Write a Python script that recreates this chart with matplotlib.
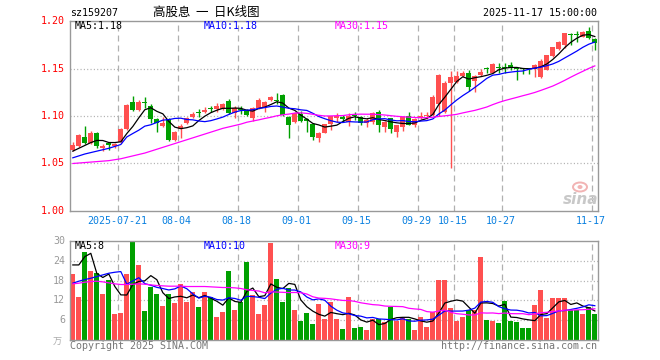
import matplotlib
matplotlib.use("Agg")
import matplotlib.pyplot as plt
from matplotlib.patches import Ellipse
import numpy as np
import pandas as pd

plt.rcParams['lines.scale_dashes'] = False

# ---------------- data ----------------
dates = ['2025-07-09','2025-07-10','2025-07-11','2025-07-14','2025-07-15','2025-07-16','2025-07-17','2025-07-18',
         '2025-07-21','2025-07-22','2025-07-23','2025-07-24','2025-07-25','2025-07-28','2025-07-29','2025-07-30',
         '2025-07-31','2025-08-01','2025-08-04','2025-08-05','2025-08-06','2025-08-07','2025-08-08','2025-08-11',
         '2025-08-12','2025-08-13','2025-08-14','2025-08-15','2025-08-18','2025-08-19','2025-08-20','2025-08-21',
         '2025-08-22','2025-08-25','2025-08-26','2025-08-27','2025-08-28','2025-08-29','2025-09-01','2025-09-02',
         '2025-09-03','2025-09-04','2025-09-05','2025-09-08','2025-09-09','2025-09-10','2025-09-11','2025-09-12',
         '2025-09-15','2025-09-16','2025-09-17','2025-09-18','2025-09-19','2025-09-22','2025-09-23','2025-09-24',
         '2025-09-25','2025-09-26','2025-09-29','2025-09-30','2025-10-09','2025-10-10','2025-10-13','2025-10-14',
         '2025-10-15','2025-10-16','2025-10-17','2025-10-20','2025-10-21','2025-10-22','2025-10-23','2025-10-24',
         '2025-10-27','2025-10-28','2025-10-29','2025-10-30','2025-10-31','2025-11-03','2025-11-04','2025-11-05',
         '2025-11-06','2025-11-07','2025-11-10','2025-11-11','2025-11-12','2025-11-13','2025-11-14','2025-11-17']

opens = [1.064,1.068,1.078,1.0712,1.0825,1.066,1.0715,1.068,1.073,1.086,1.115,1.106,1.115,1.110,1.097,1.089,
         1.097,1.075,1.086,1.093,1.099,1.1035,1.104,1.108,1.1074,1.1074,1.1158,1.1028,1.1074,1.1063,1.0975,1.108,
         1.1098,1.1168,1.117,1.122,1.0993,1.094,1.1018,1.0968,1.0912,1.0765,1.0825,1.0912,1.0975,1.0993,1.094,1.100,
         1.0993,1.093,1.094,1.1046,1.0888,1.0975,1.0835,1.0888,1.100,1.0905,1.0975,1.0995,1.1015,1.113,1.1046,1.1344,
         1.1361,1.1425,1.1456,1.1368,1.1432,1.1498,1.1456,1.152,1.151,1.1537,1.1509,1.1495,1.1495,1.1491,1.1407,1.1484,
         1.163,1.171,1.175,1.1863,1.186,1.1835,1.1898,1.181]
highs = [1.073,1.081,1.089,1.084,1.083,1.070,1.072,1.072,1.087,1.113,1.121,1.117,1.1195,1.113,1.098,1.099,
         1.098,1.084,1.0915,1.099,1.104,1.107,1.1095,1.111,1.1133,1.114,1.118,1.110,1.111,1.107,1.109,1.1186,
         1.116,1.121,1.124,1.123,1.0995,1.104,1.1055,1.0975,1.092,1.083,1.092,1.100,1.103,1.101,1.103,1.104,
         1.0995,1.0975,1.104,1.1063,1.095,1.098,1.091,1.100,1.104,1.098,1.104,1.104,1.122,1.144,1.137,1.147,
         1.147,1.147,1.148,1.1435,1.149,1.152,1.1558,1.156,1.1554,1.1572,1.151,1.1505,1.150,1.155,1.1595,1.1645,
         1.173,1.1785,1.187,1.187,1.1898,1.190,1.1935,1.182]
lows = [1.063,1.067,1.070,1.070,1.066,1.063,1.064,1.066,1.072,1.085,1.105,1.105,1.108,1.0925,1.0835,1.088,
        1.074,1.074,1.0765,1.092,1.098,1.0985,1.103,1.1045,1.1045,1.106,1.1018,1.0975,1.102,1.0995,1.095,1.107,
        1.1045,1.116,1.113,1.0995,1.0765,1.093,1.0935,1.0835,1.0747,1.073,1.082,1.085,1.094,1.094,1.089,1.096,
        1.0905,1.088,1.092,1.0835,1.083,1.0825,1.0775,1.0845,1.090,1.0885,1.0965,1.097,1.100,1.100,1.1035,1.0456,
        1.135,1.141,1.1267,1.1256,1.1425,1.145,1.145,1.1449,1.145,1.148,1.1379,1.144,1.144,1.1407,1.140,1.148,
        1.162,1.169,1.172,1.1747,1.178,1.183,1.1807,1.1695]
closes = [1.0695,1.080,1.0712,1.0825,1.0684,1.0688,1.0695,1.071,1.0865,1.112,1.106,1.115,1.1135,1.097,1.093,1.093,
          1.075,1.0835,1.089,1.098,1.1025,1.103,1.1065,1.1075,1.1109,1.1126,1.1028,1.108,1.106,1.101,1.108,1.1168,
          1.115,1.1196,1.1155,1.101,1.0905,1.1028,1.0947,1.0947,1.0782,1.0825,1.0916,1.0995,1.100,1.0968,1.100,1.0995,
          1.093,1.0958,1.1028,1.0905,1.094,1.0863,1.0905,1.0993,1.0905,1.0968,1.100,1.1005,1.1205,1.143,1.135,1.1414,
          1.1421,1.145,1.1309,1.1421,1.1467,1.1494,1.1544,1.151,1.1505,1.1502,1.1495,1.149,1.149,1.1537,1.1579,1.1642,
          1.173,1.1782,1.187,1.1856,1.1856,1.1888,1.1817,1.1765]
volumes = [20.0,13.0,26.6,20.9,20.2,13.9,18.2,7.9,8.2,20.0,29.9,22.7,8.8,16.0,13.9,10.3,
           13.9,11.2,17.0,11.6,14.5,9.9,14.5,12.9,7.0,8.6,20.9,9.1,11.6,23.6,13.5,7.9,
           10.6,29.3,18.5,11.6,15.7,9.1,5.9,8.3,4.9,10.9,6.4,11.5,6.4,3.4,13.0,3.8,
           4.1,3.1,6.3,6.3,5.5,10.1,5.9,6.8,6.3,3.1,7.1,4.0,8.6,18.2,18.2,9.8,
           5.9,6.9,9.1,9.1,25.2,6.1,5.9,5.2,11.8,5.9,5.5,3.8,3.8,10.6,15.1,6.8,
           12.7,12.7,12.7,9.1,9.1,8.0,10.1,7.9]

# moving-average values at the start of the window (they depend on days before the chart)
ma5_head = [1.063, 1.066, 1.069, 1.072]
ma10_head = [1.056, 1.058, 1.060, 1.0615, 1.063, 1.0645, 1.066, 1.068, 1.070]
ma30_head = [1.050, 1.0505, 1.051, 1.0515, 1.052, 1.0525, 1.053, 1.054, 1.055, 1.0565, 1.058, 1.0595, 1.061,
             1.063, 1.065, 1.067, 1.069, 1.071, 1.073, 1.075, 1.077, 1.079, 1.081, 1.083, 1.085, 1.087, 1.0885,
             1.090, 1.0915]
vma5_head = [22.7, 22.7, 25.2, 26.2]
vma10_head = [17.2, 17.8, 18.3, 18.7, 19.2, 19.7, 20.2, 20.5, 20.7]
vma30_head = [17.0, 17.2, 17.5, 17.7, 17.8, 17.6, 17.3, 17.0, 16.8, 16.8, 16.9, 17.0, 16.9, 16.7, 16.5,
              16.4, 16.3, 16.3, 16.3, 16.2, 16.2, 16.2, 16.2, 16.1, 16.0, 15.9, 15.9, 15.8, 15.6]

date_ticks = ['2025-07-21', '2025-08-04', '2025-08-18', '2025-09-01', '2025-09-15',
              '2025-09-29', '2025-10-15', '2025-10-27', '2025-11-17']
price_ticks = [1.00, 1.05, 1.10, 1.15, 1.20]
vol_ticks = [6, 12, 18, 24, 30]

title_code = 'sz159207'
title_name = '高股息  一  日K线图'
timestamp = '2025-11-17 15:00:00'

# ---------------- helpers ----------------
def with_head(series, n, head):
    ma = pd.Series(series).rolling(n).mean().to_numpy()
    ma[:len(head)] = head
    return ma

ma5 = with_head(closes, 5, ma5_head)
ma10 = with_head(closes, 10, ma10_head)
ma30 = with_head(closes, 30, ma30_head)
vma5 = with_head(volumes, 5, vma5_head)
vma10 = with_head(volumes, 10, vma10_head)
vma30 = with_head(volumes, 30, vma30_head)

W, H = 660, 360
fig = plt.figure(figsize=(6.6, 3.6), dpi=100)
fig.patch.set_facecolor('white')

def fxp(px):
    return px / W

def fyp(py):
    return 1 - py / H

L, R = 70.3, 597.7
ax = fig.add_axes([fxp(L), fyp(211), (R - L) / W, 190 / H])
axv = fig.add_axes([fxp(L), fyp(340.3), (R - L) / W, 99.6 / H])

RED = '#ff5050'
GREEN = '#00a000'
n = len(closes)
x = np.arange(n)
x0 = -0.42
xlim = (x0, x0 + (R - L) / 6.0)
width = 0.82

up = np.array(closes) >= np.array(opens)
colors = [RED if u else GREEN for u in up]

o = np.array(opens); c = np.array(closes)
bottoms = np.minimum(o, c)
heights = np.maximum(np.abs(c - o), 0.0011)

tick_idx = [dates.index(d) for d in date_ticks]
grid_x = [i + x0 for i in tick_idx]

for a in (ax, axv):
    a.set_xlim(*xlim)
    for s in a.spines.values():
        s.set_color('#999999')
        s.set_linewidth(1.0)
    a.set_xticks([])
    a.set_yticks([])
    for gx in grid_x:
        a.axvline(gx, color='#b0b0b0', lw=0.9, linestyle=(0, (4.3, 2.9)), zorder=0)

ax.set_ylim(1.0, 1.2)
for pv in price_ticks[1:-1]:
    ax.axhline(pv, color='#b0b0b0', lw=0.9, linestyle=(0, (0.8, 1.6)), zorder=0)
axv.set_ylim(0, 30)
for vv in vol_ticks[:-1]:
    axv.axhline(vv, color='#b0b0b0', lw=0.9, linestyle=(0, (0.8, 1.6)), zorder=0)

# candles
ax.vlines(x, lows, highs, colors=colors, lw=1.0, zorder=2)
ax.bar(x, heights, width, bottom=bottoms, color=colors, linewidth=0, zorder=3)
ax.plot(x, ma5, color='black', lw=0.9, zorder=4)
ax.plot(x, ma10, color='#0000ff', lw=0.9, zorder=4)
ax.plot(x, ma30, color='#ff00ff', lw=0.9, zorder=4)

# volume
axv.bar(x, volumes, width, color=colors, linewidth=0, zorder=2)
axv.plot(x, vma5, color='black', lw=0.9, zorder=4)
axv.plot(x, vma10, color='#0000ff', lw=0.9, zorder=4)
axv.plot(x, vma30, color='#ff00ff', lw=0.9, zorder=4)

MONO = 'DejaVu Sans Mono'
FS = 7.2

# price tick labels
for pv in price_ticks:
    py = 211 - (pv - 1.0) / 0.2 * 190
    fig.text(fxp(65), fyp(py), f'{pv:.2f}', color='#ff0000', fontsize=FS, family=MONO,
             ha='right', va='center')
# volume tick labels
for vv in vol_ticks:
    py = 340.3 - vv / 30 * 99.6
    fig.text(fxp(65), fyp(py), f'{vv}', color='#999999', fontsize=FS, family=MONO,
             ha='right', va='center')
fig.text(fxp(57), fyp(342), '万', color='#aaaaaa', fontsize=6.5,
         family=['Noto Sans CJK SC', 'DejaVu Sans'], ha='center', va='center')

# date labels
for i, d in zip(tick_idx, date_ticks):
    lab = d if i == tick_idx[0] else d[5:]
    px = L + (i + x0 - xlim[0]) * 6 - 1.5
    fig.text(fxp(px), fyp(221), lab, color='#0a80e0', fontsize=FS, family=MONO,
             ha='center', va='center')

# titles
fig.text(fxp(70), fyp(12.5), title_code, color='black', fontsize=FS, family=MONO,
         ha='left', va='center')
fig.text(fxp(206), fyp(12.5), title_name, color='black', fontsize=9,
         family=['Noto Sans CJK SC', 'DejaVu Sans'], ha='center', va='center')
fig.text(fxp(597), fyp(12.5), timestamp, color='black', fontsize=FS, family=MONO,
         ha='right', va='center')

# MA labels
fig.text(fxp(75), fyp(26), f'MA5:{ma5[-1]:.2f}', color='black', fontsize=FS, family=MONO, ha='left', va='center')
fig.text(fxp(204), fyp(26), f'MA10:{ma10[-1]:.2f}', color='#0000ff', fontsize=FS, family=MONO, ha='left', va='center')
fig.text(fxp(335), fyp(26), f'MA30:{ma30[-1]:.2f}', color='#ff00ff', fontsize=FS, family=MONO, ha='left', va='center')
fig.text(fxp(75), fyp(246), f'MA5:{int(vma5[-1])}', color='black', fontsize=FS, family=MONO, ha='left', va='center')
fig.text(fxp(204), fyp(246), f'MA10:{int(vma10[-1])}', color='#0000ff', fontsize=FS, family=MONO, ha='left', va='center')
fig.text(fxp(335), fyp(246), f'MA30:{int(vma30[-1])}', color='#ff00ff', fontsize=FS, family=MONO, ha='left', va='center')

# footer
fig.text(fxp(70), fyp(346), 'Copyright 2025 SINA.COM', color='#777777', fontsize=FS, family=MONO,
         ha='left', va='center')
fig.text(fxp(597), fyp(346), 'http://finance.sina.com.cn', color='#777777', fontsize=FS, family=MONO,
         ha='right', va='center')

# sina watermark
fig.text(fxp(581), fyp(199), 'sina', color='#c8c8c8', fontsize=11, fontweight='bold', style='italic',
         family='DejaVu Sans', ha='center', va='center')
fig.add_artist(Ellipse((fxp(580), fyp(187)), 14 / W, 9 / H, transform=fig.transFigure,
                       fill=False, edgecolor='#f2b4b4', lw=1.4))
fig.add_artist(Ellipse((fxp(580), fyp(187)), 5 / W, 4 / H, transform=fig.transFigure,
                       facecolor='#f2b4b4', edgecolor='none'))

fig.savefig('out.png', dpi=100)
